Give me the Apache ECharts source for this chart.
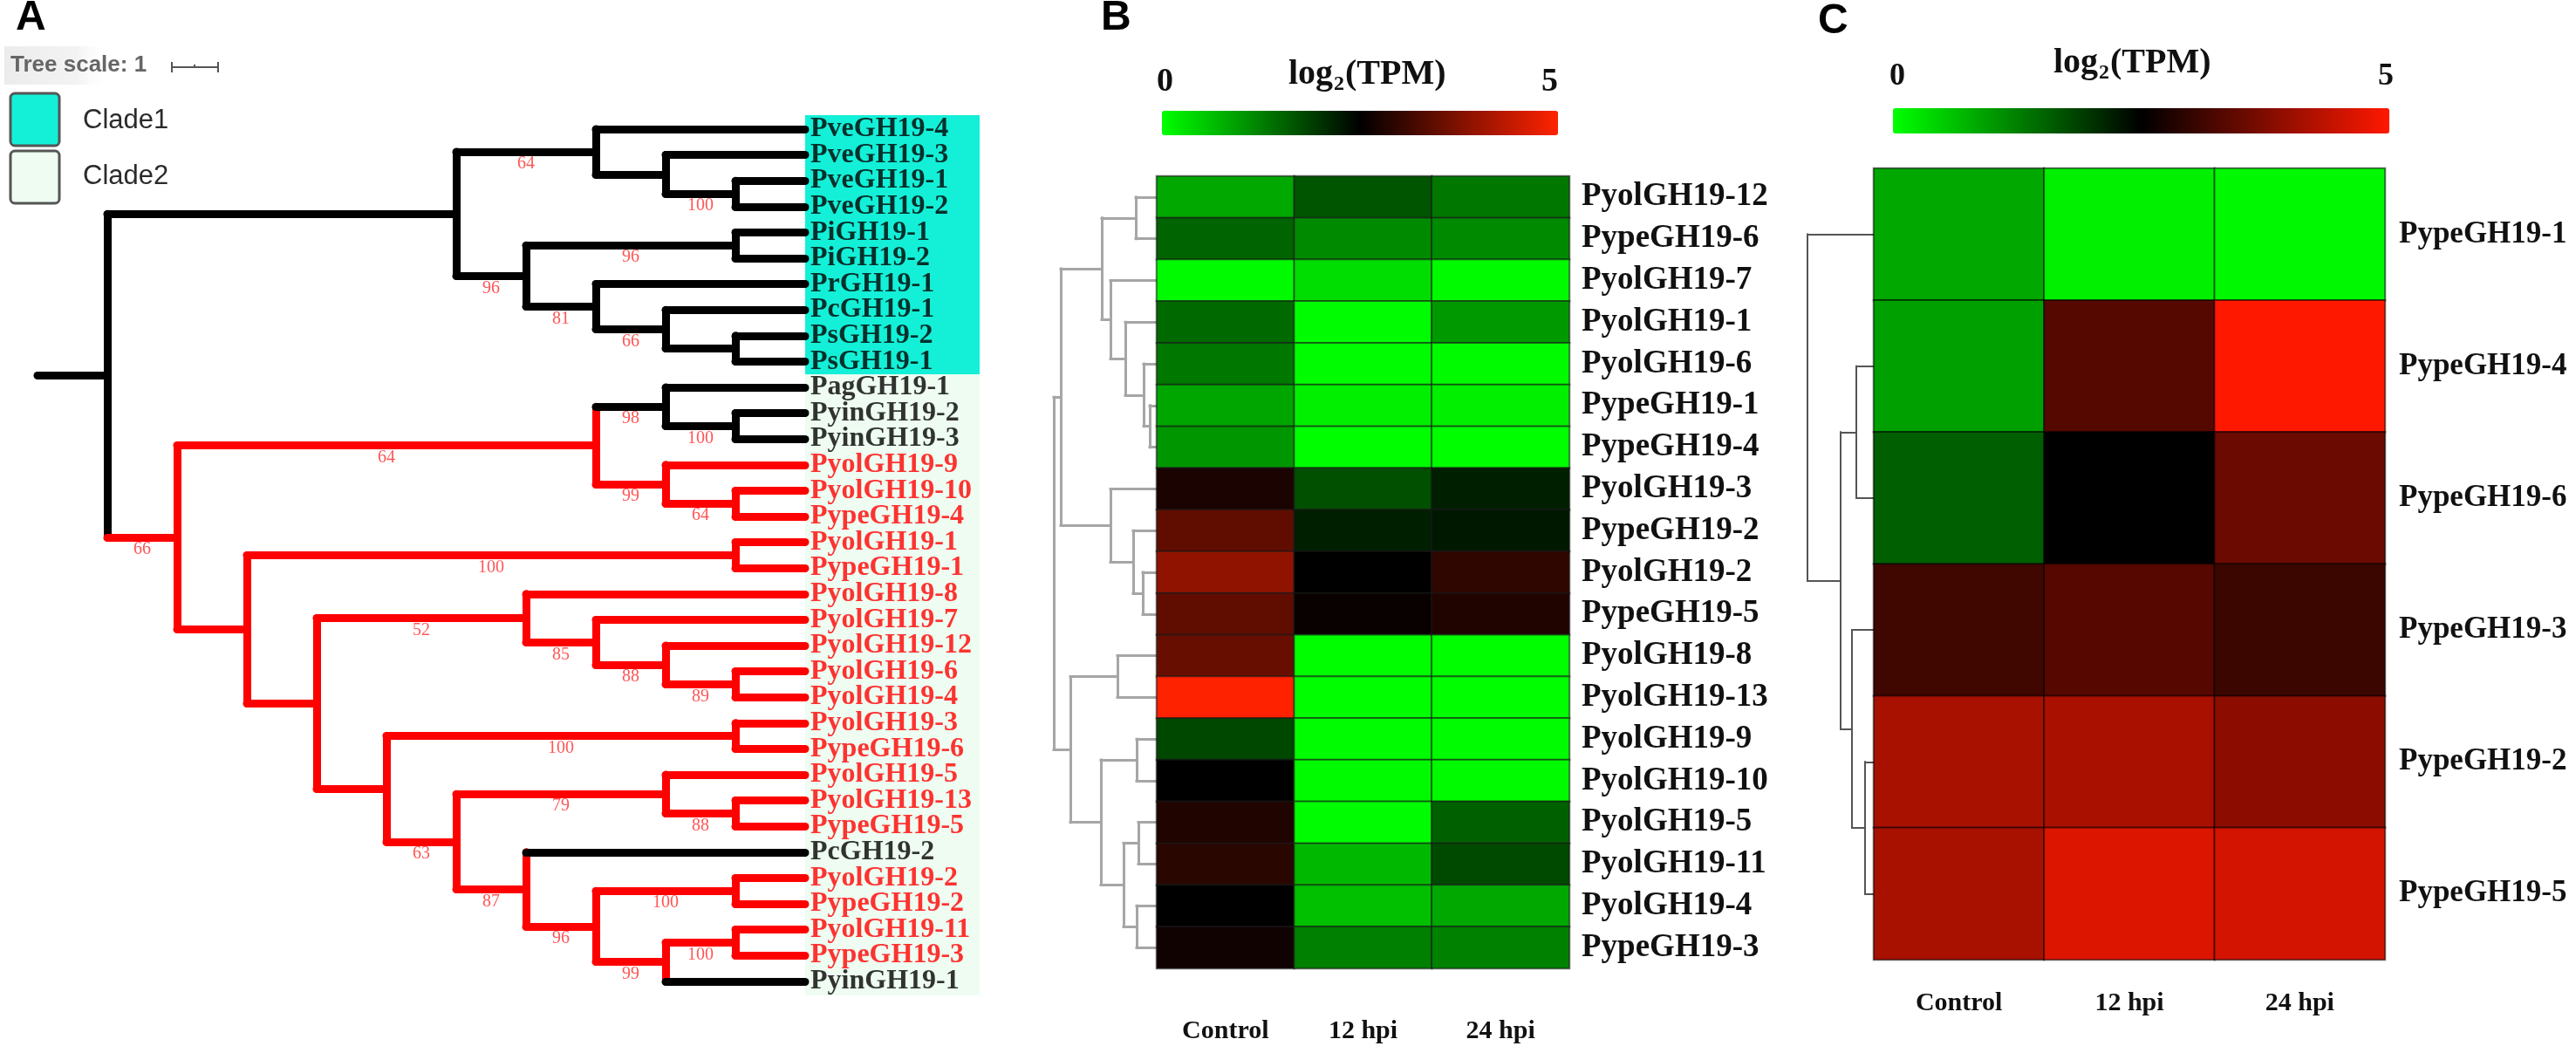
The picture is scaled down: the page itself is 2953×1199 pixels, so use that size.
<!DOCTYPE html>
<html>
<head>
<meta charset="utf-8">
<script src="https://cdn.jsdelivr.net/npm/echarts@6/dist/echarts.min.js"></script>
<style>
html, body { margin: 0; padding: 0; background: #fff; }
#main { width: 2953px; height: 1199px; }
</style>
</head>
<body>
<div id="main"></div>
<script>
var chartDom = document.getElementById('main');
var myChart = echarts.init(chartDom);
var option;

// ---------- panel A : phylogenetic tree ----------
const leafNames = ['PveGH19-4', 'PveGH19-3', 'PveGH19-1', 'PveGH19-2', 'PiGH19-1', 'PiGH19-2',
  'PrGH19-1', 'PcGH19-1', 'PsGH19-2', 'PsGH19-1', 'PagGH19-1', 'PyinGH19-2', 'PyinGH19-3',
  'PyolGH19-9', 'PyolGH19-10', 'PypeGH19-4', 'PyolGH19-1', 'PypeGH19-1', 'PyolGH19-8',
  'PyolGH19-7', 'PyolGH19-12', 'PyolGH19-6', 'PyolGH19-4', 'PyolGH19-3', 'PypeGH19-6',
  'PyolGH19-5', 'PyolGH19-13', 'PypeGH19-5', 'PcGH19-2', 'PyolGH19-2', 'PypeGH19-2',
  'PyolGH19-11', 'PypeGH19-3', 'PyinGH19-1'];

// node = [depth, bootstrap, red, children]; a number is a leaf index
const treeA =
  [0, null, 0, [
    [5, null, 0, [
      [7, 64, 0, [0, [8, null, 0, [1, [9, 100, 0, [2, 3]]]]]],
      [6, 96, 0, [[9, 96, 0, [4, 5]], [7, 81, 0, [6, [8, 66, 0, [7, [9, null, 0, [8, 9]]]]]]]]
    ]],
    [1, 66, 1, [
      [7, 64, 1, [
        [8, 98, 0, [10, [9, 100, 0, [11, 12]]]],
        [8, 99, 1, [13, [9, 64, 1, [14, 15]]]]
      ]],
      [2, null, 1, [
        [9, 100, 1, [16, 17]],
        [3, null, 1, [
          [6, 52, 1, [18, [7, 85, 1, [19, [8, 88, 1, [20, [9, 89, 1, [21, 22]]]]]]]],
          [4, null, 1, [
            [9, 100, 1, [23, 24]],
            [5, 63, 1, [
              [8, 79, 1, [25, [9, 88, 1, [26, 27]]]],
              [6, 87, 1, [28, [7, 96, 1, [[9, 100, 1, [29, 30]], [8, 99, 1, [[9, 100, 1, [31, 32]], 33]]]]]]
            ]]
          ]]
        ]]
      ]]
    ]]
  ]];
const tipDepth = 10;
const clade1Leaves = [0, 9];
const clade2Leaves = [10, 33];

// ---------- panel B : heatmap ----------
const timepoints = ['Control', '12 hpi', '24 hpi'];
const genesB = ['PyolGH19-12', 'PypeGH19-6', 'PyolGH19-7', 'PyolGH19-1', 'PyolGH19-6', 'PypeGH19-1',
  'PypeGH19-4', 'PyolGH19-3', 'PypeGH19-2', 'PyolGH19-2', 'PypeGH19-5', 'PyolGH19-8',
  'PyolGH19-13', 'PyolGH19-9', 'PyolGH19-10', 'PyolGH19-5', 'PyolGH19-11', 'PyolGH19-4', 'PypeGH19-3'];
const controlB = [0.85, 1.52, 0.05, 1.47, 1.32, 0.87, 1.03, 2.75, 3.44, 3.91, 3.44, 3.52, 5.0, 1.79, 2.5, 2.81, 2.91, 2.5, 2.66];
const hpi12B = [1.67, 1.15, 0.33, 0.03, 0.03, 0.15, 0.02, 1.72, 2.2, 2.5, 2.58, 0.02, 0.02, 0.03, 0.05, 0.03, 0.7, 0.62, 1.25];
const hpi24B = [1.32, 1.15, 0.05, 0.99, 0.05, 0.15, 0.02, 2.2, 2.26, 2.97, 2.81, 0.02, 0.02, 0.03, 0.05, 1.56, 1.77, 0.85, 1.23];
// dendrogram: [left, right, height]
const dendroB =
  [[[[0, 1, 24], [2, [3, [4, [5, 6, 8], 15], 36], 53], 63],
    [7, [8, [9, 10, 16], 27], 53], 110],
   [[11, 12, 45], [[13, 14, 23], [[15, 16, 21], [17, 18, 23], 38], 64], 99], 118];

// ---------- panel C : heatmap ----------
const genesC = ['PypeGH19-1', 'PypeGH19-4', 'PypeGH19-6', 'PypeGH19-3', 'PypeGH19-2', 'PypeGH19-5'];
const controlC = [0.85, 0.93, 1.57, 3.13, 4.15, 4.15];
const hpi12C = [0.15, 3.33, 2.5, 3.34, 4.17, 4.66];
const hpi24C = [0.07, 5.0, 3.54, 3.09, 3.87, 4.56];
const dendroC = [0, [[1, 2, 20], [3, [4, 5, 10], 25], 38], 76];

// ---------- build ----------
const RED = '#ff0000';
const BLACK = '#000000';
const serif = "'Liberation Serif', 'Times New Roman', serif";
const sans = "'Liberation Sans', Arial, sans-serif";
const leafRed = leafNames.map((n) => /^Py(ol|pe)/.test(n));

const treeSegs = [];
const bootLabels = [];
function walk(node) {
  if (typeof node === 'number') return { y: node, d: tipDepth, red: leafRed[node] };
  const [d, bs, red, kids] = node;
  const ch = kids.map(walk);
  treeSegs.push({ coords: [[d, ch[0].y], [d, ch[ch.length - 1].y]], lineStyle: { color: red ? RED : BLACK } });
  ch.forEach((c, k) => {
    treeSegs.push({ coords: [[d, c.y], [c.d, c.y]], lineStyle: { color: c.red ? RED : BLACK } });
    const kb = kids[k];
    if (typeof kb !== 'number' && kb[1] != null) bootLabels.push([(d + c.d) / 2, c.y, kb[1]]);
  });
  return { y: (ch[0].y + ch[ch.length - 1].y) / 2, d: d, red: red };
}
const rootA = walk(treeA);
treeSegs.push({ coords: [[-1, rootA.y], [0, rootA.y]], lineStyle: { color: BLACK } });

function dendroSegs(tree) {
  const segs = [];
  (function rec(node) {
    if (typeof node === 'number') return { y: node, h: 0 };
    const a = rec(node[0]);
    const b = rec(node[1]);
    const h = node[2];
    segs.push({ coords: [[h, a.y], [h, b.y]] });
    segs.push({ coords: [[h, a.y], [a.h, a.y]] });
    segs.push({ coords: [[h, b.y], [b.h, b.y]] });
    return { y: (a.y + b.y) / 2, h: h };
  })(tree);
  return segs;
}

function heat(c0, c1, c2) {
  const out = [];
  [c0, c1, c2].forEach((col, i) => col.forEach((v, j) => out.push([i, j, v])));
  return out;
}

// layout of panel A
const leafTop = 148, leafPitch = 29.6, depthPx = 80;
const yMinA = -0.6, yMaxA = 33.6;

const hidden = { show: false };
option = {
  animation: false,
  grid: [
    { left: 43, top: leafTop + yMinA * leafPitch, width: 13.5 * depthPx, height: (yMaxA - yMinA) * leafPitch },
    { left: 1196, top: 202, width: 130, height: 908 },
    { left: 1326, top: 202, width: 473, height: 908 },
    { left: 2068, top: 193, width: 80, height: 907 },
    { left: 2148, top: 193, width: 586, height: 907 }
  ],
  xAxis: [
    { gridIndex: 0, type: 'value', min: -1, max: 12.5, show: false },
    { gridIndex: 1, type: 'value', min: 0, max: 130, inverse: true, show: false },
    {
      gridIndex: 2, type: 'category', data: timepoints, position: 'bottom',
      axisLine: hidden, axisTick: hidden, splitLine: hidden,
      axisLabel: { interval: 0, margin: 57, fontSize: 30, fontWeight: 'bold', fontFamily: serif, color: '#111' }
    },
    { gridIndex: 3, type: 'value', min: 0, max: 80, inverse: true, show: false },
    {
      gridIndex: 4, type: 'category', data: timepoints, position: 'bottom',
      axisLine: hidden, axisTick: hidden, splitLine: hidden,
      axisLabel: { interval: 0, margin: 35, fontSize: 30, fontWeight: 'bold', fontFamily: serif, color: '#111' }
    }
  ],
  yAxis: [
    { gridIndex: 0, type: 'value', min: yMinA, max: yMaxA, inverse: true, show: false },
    { gridIndex: 1, type: 'value', min: -0.5, max: 18.5, inverse: true, show: false },
    {
      gridIndex: 2, type: 'category', data: genesB, inverse: true, position: 'right',
      axisLine: hidden, axisTick: hidden, splitLine: hidden,
      axisLabel: { interval: 0, margin: 14, fontSize: 37, fontWeight: 'bold', fontFamily: serif, color: '#111' }
    },
    { gridIndex: 3, type: 'value', min: -0.5, max: 5.5, inverse: true, show: false },
    {
      gridIndex: 4, type: 'category', data: genesC, inverse: true, position: 'right',
      axisLine: hidden, axisTick: hidden, splitLine: hidden,
      axisLabel: { interval: 0, margin: 16, fontSize: 35, fontWeight: 'bold', fontFamily: serif, color: '#111' }
    }
  ],
  visualMap: [
    {
      type: 'continuous', seriesIndex: 4, min: 0, max: 5, orient: 'horizontal',
      left: 1332, top: 127, itemWidth: 28, itemHeight: 454, padding: 0,
      calculable: false, hoverLink: false, text: null, showLabel: false,
      inRange: { color: ['#00ff00', '#000000', '#ff2200'] }
    },
    {
      type: 'continuous', seriesIndex: 6, min: 0, max: 5, orient: 'horizontal',
      left: 2170, top: 124, itemWidth: 29, itemHeight: 569, padding: 0,
      calculable: false, hoverLink: false, text: null, showLabel: false,
      inRange: { color: ['#00ff00', '#000000', '#ff1800'] }
    }
  ],
  series: [
    {
      type: 'lines', coordinateSystem: 'cartesian2d', xAxisIndex: 0, yAxisIndex: 0, z: 3,
      silent: true, lineStyle: { width: 9, opacity: 1, cap: 'round' },
      data: treeSegs
    },
    {
      type: 'scatter', xAxisIndex: 0, yAxisIndex: 0, z: 1, silent: true,
      symbolSize: 0.1, itemStyle: { color: 'transparent' },
      data: leafNames.map((n, i) => ({ value: [tipDepth, i], label: { color: leafRed[i] ? RED : BLACK } })),
      label: {
        show: true, position: 'right', distance: 6,
        fontSize: 32, fontWeight: 'bold', fontFamily: serif,
        formatter: (p) => leafNames[p.dataIndex]
      },
      markArea: {
        silent: true,
        label: { show: false },
        data: [
          [{ xAxis: tipDepth, yAxis: clade1Leaves[0] - 0.54, itemStyle: { color: '#14f0d8' } },
           { xAxis: 12.5, yAxis: clade1Leaves[1] + 0.5 }],
          [{ xAxis: tipDepth, yAxis: clade2Leaves[0] - 0.5, itemStyle: { color: '#eefcf1' } },
           { xAxis: 12.5, yAxis: clade2Leaves[1] + 0.54 }]
        ]
      }
    },
    {
      type: 'scatter', xAxisIndex: 0, yAxisIndex: 0, z: 4, silent: true,
      symbolSize: 0.1, itemStyle: { color: 'transparent' },
      data: bootLabels,
      label: {
        show: true, position: 'inside', offset: [0, 14],
        fontSize: 20, fontFamily: serif, color: '#ff2a2a',
        formatter: (p) => String(p.value[2])
      }
    },
    {
      type: 'lines', coordinateSystem: 'cartesian2d', xAxisIndex: 1, yAxisIndex: 1, silent: true,
      lineStyle: { color: '#a6a6a6', width: 3, opacity: 1, cap: 'square' },
      data: dendroSegs(dendroB)
    },
    {
      type: 'heatmap', xAxisIndex: 2, yAxisIndex: 2, silent: true,
      data: heat(controlB, hpi12B, hpi24B),
      itemStyle: { borderColor: 'rgba(25,25,25,0.6)', borderWidth: 2 },
      label: { show: false }
    },
    {
      type: 'lines', coordinateSystem: 'cartesian2d', xAxisIndex: 3, yAxisIndex: 3, silent: true,
      lineStyle: { color: '#555555', width: 2, opacity: 1, cap: 'square' },
      data: dendroSegs(dendroC)
    },
    {
      type: 'heatmap', xAxisIndex: 4, yAxisIndex: 4, silent: true,
      data: heat(controlC, hpi12C, hpi24C),
      itemStyle: { borderColor: 'rgba(0,0,0,0.55)', borderWidth: 2 },
      label: { show: false }
    }
  ],
  graphic: [
    // panel letters
    { type: 'text', x: 18, y: 21, style: { text: 'A', fontSize: 48, fontWeight: 'bold', fontFamily: sans, fill: '#000', verticalAlign: 'middle' } },
    { type: 'text', x: 1262, y: 21, style: { text: 'B', fontSize: 48, fontWeight: 'bold', fontFamily: sans, fill: '#000', verticalAlign: 'middle' } },
    { type: 'text', x: 2084, y: 25, style: { text: 'C', fontSize: 48, fontWeight: 'bold', fontFamily: sans, fill: '#000', verticalAlign: 'middle' } },
    // tree scale
    {
      type: 'rect', shape: { x: 5, y: 53, width: 120, height: 44 },
      style: {
        fill: new echarts.graphic.LinearGradient(0, 0, 1, 0, [
          { offset: 0, color: '#ececec' }, { offset: 0.7, color: '#f3f3f3' }, { offset: 1, color: 'rgba(255,255,255,0)' }
        ])
      }
    },
    { type: 'text', x: 12, y: 75, style: { text: 'Tree scale: 1', fontSize: 26, fontWeight: 'bold', fontFamily: sans, fill: '#666', verticalAlign: 'middle' } },
    { type: 'line', shape: { x1: 197, y1: 77, x2: 250, y2: 77 }, style: { stroke: '#555', lineWidth: 2 } },
    { type: 'line', shape: { x1: 197, y1: 71, x2: 197, y2: 83 }, style: { stroke: '#555', lineWidth: 2 } },
    { type: 'line', shape: { x1: 250, y1: 71, x2: 250, y2: 83 }, style: { stroke: '#555', lineWidth: 2 } },
    { type: 'line', shape: { x1: 223, y1: 74, x2: 223, y2: 77 }, style: { stroke: '#555', lineWidth: 2 } },
    // clade legend
    { type: 'rect', shape: { x: 12, y: 107, width: 56, height: 60, r: 5 }, style: { fill: '#14f0d8', stroke: '#555', lineWidth: 3 } },
    { type: 'rect', shape: { x: 12, y: 173, width: 56, height: 60, r: 5 }, style: { fill: '#eefcf1', stroke: '#555', lineWidth: 3 } },
    { type: 'text', x: 95, y: 138, style: { text: 'Clade1', fontSize: 31, fontFamily: sans, fill: '#2b2b2b', verticalAlign: 'middle' } },
    { type: 'text', x: 95, y: 202, style: { text: 'Clade2', fontSize: 31, fontFamily: sans, fill: '#2b2b2b', verticalAlign: 'middle' } },
    // colour bar captions B
    { type: 'text', x: 1326, y: 94, style: { text: '0', fontSize: 38, fontWeight: 'bold', fontFamily: serif, fill: '#111', verticalAlign: 'middle' } },
    { type: 'text', x: 1786, y: 94, style: { text: '5', fontSize: 38, fontWeight: 'bold', fontFamily: serif, fill: '#111', align: 'right', verticalAlign: 'middle' } },
    { type: 'text', x: 1477, y: 86, style: { text: 'log', fontSize: 40, fontWeight: 'bold', fontFamily: serif, fill: '#111', verticalAlign: 'middle' } },
    { type: 'text', x: 1529, y: 97, style: { text: '2', fontSize: 24, fontWeight: 'bold', fontFamily: serif, fill: '#111', verticalAlign: 'middle' } },
    { type: 'text', x: 1542, y: 86, style: { text: '(TPM)', fontSize: 40, fontWeight: 'bold', fontFamily: serif, fill: '#111', verticalAlign: 'middle' } },
    // colour bar captions C
    { type: 'text', x: 2166, y: 88, style: { text: '0', fontSize: 36, fontWeight: 'bold', fontFamily: serif, fill: '#111', verticalAlign: 'middle' } },
    { type: 'text', x: 2744, y: 88, style: { text: '5', fontSize: 36, fontWeight: 'bold', fontFamily: serif, fill: '#111', align: 'right', verticalAlign: 'middle' } },
    { type: 'text', x: 2354, y: 73, style: { text: 'log', fontSize: 40, fontWeight: 'bold', fontFamily: serif, fill: '#111', verticalAlign: 'middle' } },
    { type: 'text', x: 2406, y: 84, style: { text: '2', fontSize: 24, fontWeight: 'bold', fontFamily: serif, fill: '#111', verticalAlign: 'middle' } },
    { type: 'text', x: 2419, y: 73, style: { text: '(TPM)', fontSize: 40, fontWeight: 'bold', fontFamily: serif, fill: '#111', verticalAlign: 'middle' } }
  ]
};

option && myChart.setOption(option);

window.onresize = function () {
  myChart.resize();
};
</script>
</body>
</html>
